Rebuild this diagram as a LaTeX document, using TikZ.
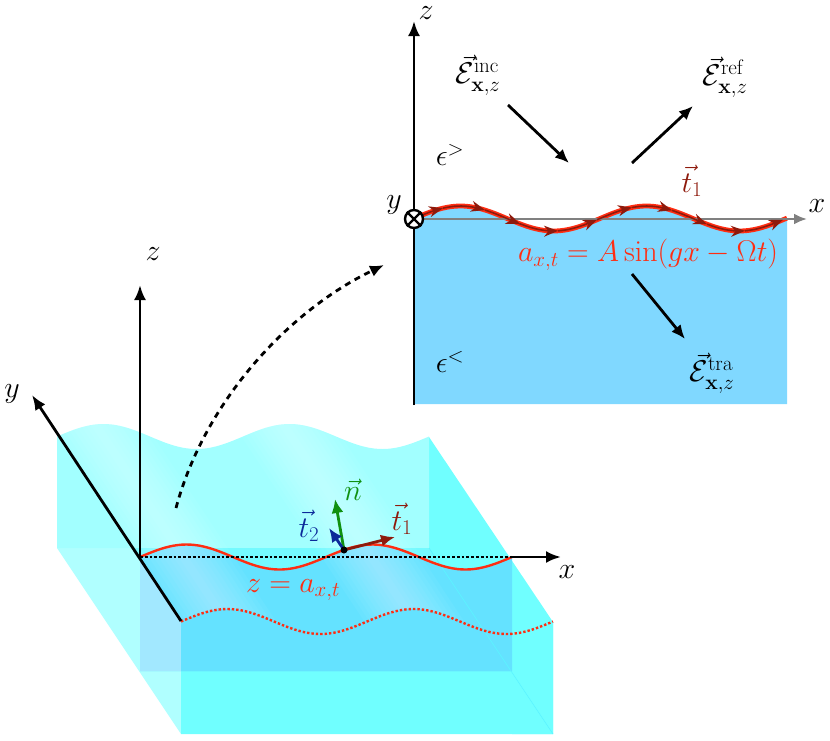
\documentclass[tikz,border=0pt]{standalone}
\usepackage{fix-cm}
\usepackage{amsmath,bm}
\usetikzlibrary{arrows.meta}
\definecolor{backc}{HTML}{A2FFFF}
\definecolor{leftc}{HTML}{B0FFFF}
\definecolor{sidec}{HTML}{70FFFF}
\definecolor{planec}{HTML}{64E2FF}
\definecolor{planel}{HTML}{A2E8FF}
\definecolor{uppc}{HTML}{74FAFF}
\definecolor{edgec}{HTML}{5CF4FF}
\definecolor{skyc}{HTML}{80D8FF}
\definecolor{redc}{HTML}{FF2D12}
\definecolor{dred}{HTML}{8E1A0C}
\definecolor{gnc}{HTML}{109010}
\definecolor{blc}{HTML}{0C2A9A}
\newcommand{\wav}[3]{#1+#3,{#2-12.5*sin((#3)/186*360)}}
\tikzset{
  ax/.style={line width=2.8pt,-{Latex[length=15pt,width=12pt]}},
  lab/.style={font=\fontsize{30}{34}\selectfont,inner sep=0pt},
  stripe/.style={fill=white,opacity=0.038},
  thinarr/.style={line width=2.8pt,-{Latex[length=14pt,width=12pt]}},
  topw/.style={samples=5,smooth,line width=1.6pt,dred,-{Stealth[length=14pt,width=11pt]}}
}
\begin{document}
\begin{tikzpicture}[x=1pt,y=-1pt]
\useasboundingbox (0,0) rectangle (830,740);
% ---- coordinates
\coordinate (O) at (140,557);
\coordinate (F) at (181,621);
\coordinate (ZT) at (140,285);
\coordinate (YT) at (32,395);
\coordinate (XE) at (512,557);
\coordinate (XT) at (561,557);
\coordinate (P) at (344,550);
\coordinate (Pn) at (335,499);
\coordinate (Pb) at (329,528);
\coordinate (Pr) at (395,537);
% ---- left-lower silhouette
\fill[leftc] (57,548) -- (181,734) -- (181,621) -- (57,436) -- cycle;
% ---- right side and front face
\fill[sidec] (429,437) -- (553,622) -- (553,734) -- (181,734) -- (181,621) -- (134,548) -- (429,548) -- cycle;
% ---- back face
\fill[backc] plot[domain=0:372,samples=90,smooth] (\wav{57}{436.5}{\x}) -- (429,548) -- (57,548) -- cycle;
% ---- part of the surface below the back face
\fill[uppc] (134,548) -- (429,548) -- (512,671) -- (181,671) -- (181,621) -- cycle;
% ---- plane
\fill[planec] plot[domain=0:372,samples=90,smooth] (\wav{140}{557}{\x}) -- (512,671) -- (140,671) -- cycle;
% ---- stripes, along the crests of the surface
\begin{scope}
\clip plot[domain=0:372,samples=90,smooth] (\wav{57}{436.5}{\x}) -- (429,548) -- (512,671) -- (512,671)
      -- plot[domain=331:0,samples=80,smooth] (\wav{181}{621.5}{\x}) -- cycle;
\foreach \w in {5,10,...,50}{
  \fill[stripe] (95-\w,424) -- (95+\w,424) -- (242+\w,645) -- (242-\w,645) -- cycle;
  \fill[stripe] (283-\w,424) -- (283+\w,424) -- (430+\w,645) -- (430-\w,645) -- cycle;
}
\end{scope}
\fill[planel] (140,557) -- (181,621) -- (181,671) -- (140,671) -- cycle;
\fill[sidec] plot[domain=331:372,samples=12,smooth] (\wav{181}{621.5}{\x}) -- (553,734) -- (512,734) -- cycle;
\fill[planec] plot[domain=0:331,samples=80,smooth] (\wav{181}{621.5}{\x}) -- (512,671) -- (181,671) -- cycle;
\draw[edgec,line width=.6pt] (429,548) -- (553,734);
% ---- waves
\draw[redc,line width=2.4pt,dotted] plot[domain=0:372,samples=90,smooth] (\wav{181}{621.5}{\x});
\draw[redc,line width=2.4pt] plot[domain=0:372,samples=90,smooth] (\wav{140}{557}{\x});
% ---- axes
\draw[line width=2.8pt,dotted] (O) -- (XE);
\draw[ax] (XE) -- (XT);
\draw[ax] (O) -- (ZT);
\draw[ax] (F) -- (YT);
% ---- surface vectors
\draw[thinarr,gnc] (P) -- (Pn);
\draw[thinarr,blc] (P) -- (Pb);
\draw[thinarr,dred] (P) -- (Pr);
\node[circle,fill=black,minimum size=7pt,inner sep=0pt] (Pd) at (P) {};
\node[lab] (lz) at (153,254) {$z$};
\node[lab] (ly) at (12,394) {$y$};
\node[lab] (lx) at (567,572) {$x$};
\node[lab,gnc] (ln) at (353,490) {$\vec{n}$};
\node[lab,blc] (lt2) at (309,526) {$\vec{t}_2$};
\node[lab,dred] (lt1) at (402,519) {$\vec{t}_1$};
\node[lab,redc] (lza) at (293,590) {$z=a_{x,t}$};
% ---- dashed link
\coordinate (DA) at (176,508);
\coordinate (DB) at (384,265);
\draw[line width=2.8pt,dash pattern=on 6pt off 5pt,-{Latex[length=14pt,width=12pt]}] (DA) .. controls (205,400) and (290,310) .. (DB);
% ---- inset
\fill[skyc] plot[domain=0:373,samples=90,smooth] (\wav{414}{218.5}{\x}) -- (787,404) -- (414,404) -- cycle;
\coordinate (IO) at (414,219);
\coordinate (IB) at (414,405);
\coordinate (IZ) at (414,21);
\coordinate (IX) at (807,219);
\draw[redc,line width=4.8pt] plot[domain=0:373,samples=90,smooth] (\wav{414}{218.5}{\x});
\draw[line width=2.4pt,gray,-{Latex[length=13pt,width=11pt]}] (IO) -- (IX);
\draw[ax] (IB) -- (IZ);
\foreach \a/\b in {0/29,29/71,71/106,106/144,144/183,183/218,218/258,258/293,293/331,331/369}{
  \draw[topw] plot[domain=\a:\b] (\wav{414}{218.5}{\x});
}
\node[circle,draw=black,fill=white,line width=2.4pt,minimum size=18pt,inner sep=0pt] (IC) at (414,219) {};
\draw[line width=2.4pt] (IC.45) -- (IC.225) (IC.135) -- (IC.315);
\coordinate (A1) at (508,105); \coordinate (A2) at (569,163);
\coordinate (B1) at (632,163); \coordinate (B2) at (693,106);
\coordinate (C1) at (632,274); \coordinate (C2) at (685,339);
\draw[thinarr] (A1) -- (A2);
\draw[thinarr] (B1) -- (B2);
\draw[thinarr] (C1) -- (C2);
\node[lab] (linc) at (478,75) {$\vec{\mathcal{E}}^{\mathrm{inc}}_{\mathbf{x},z}$};
\node[lab] (lref) at (725,77) {$\vec{\mathcal{E}}^{\mathrm{ref}}_{\mathbf{x},z}$};
\node[lab] (ltra) at (712,373) {$\vec{\mathcal{E}}^{\mathrm{tra}}_{\mathbf{x},z}$};
\node[lab] (le1) at (450,155) {$\epsilon^{>}$};
\node[lab] (le2) at (450,362) {$\epsilon^{<}$};
\node[lab,dred] (lt3) at (692,181) {$\vec{t}_1$};
\node[lab,redc] (leq) at (648,255) {$a_{x,t}=A\sin(gx-\Omega t)$};
\node[lab] (ly2) at (394,205) {$y$};
\node[lab] (lz2) at (426,13) {$z$};
\node[lab] (lx2) at (817,206) {$x$};
\end{tikzpicture}
\end{document}
